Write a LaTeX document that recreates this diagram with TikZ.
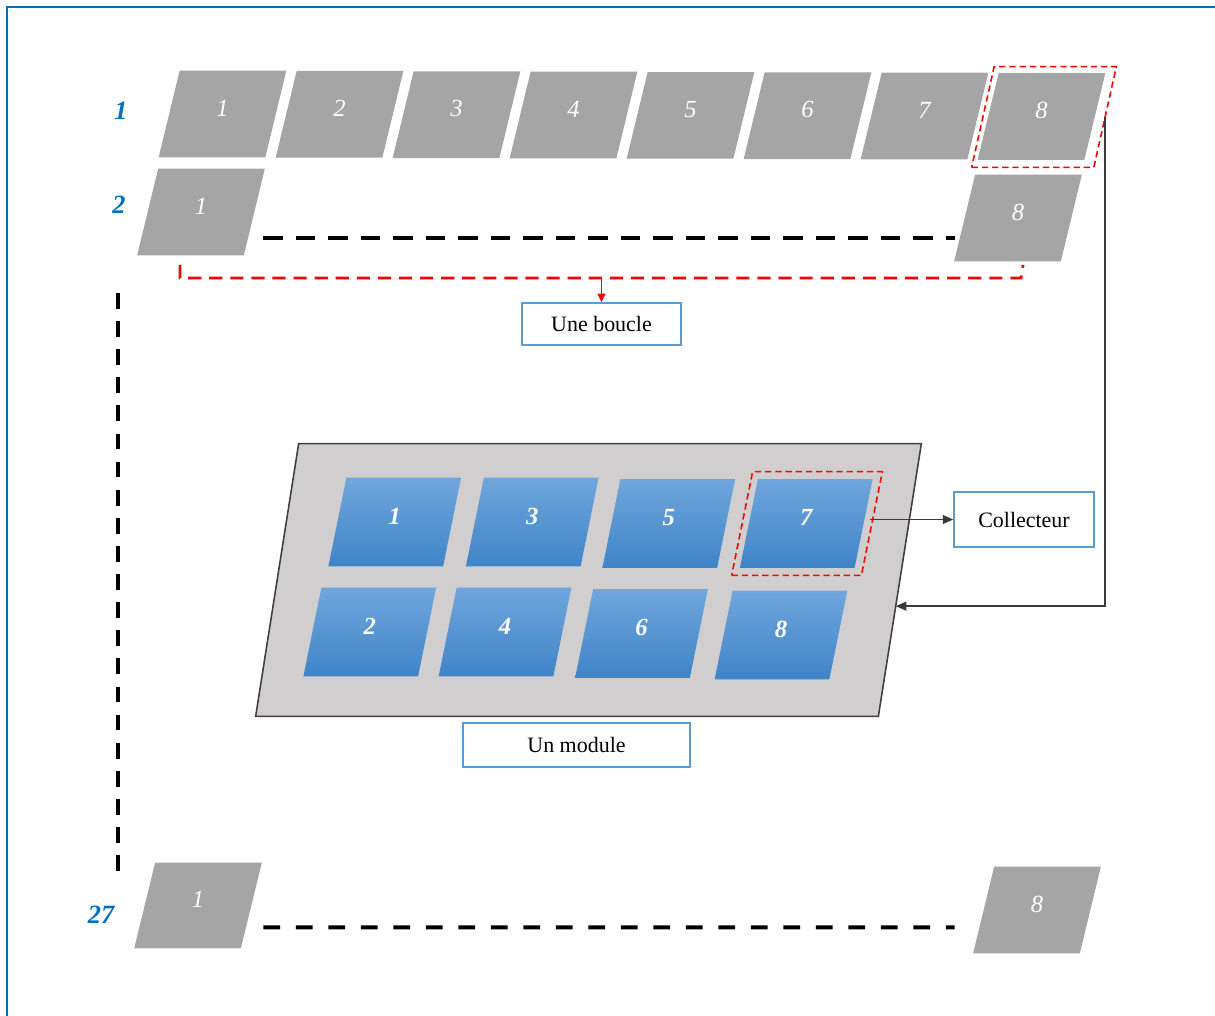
\documentclass[tikz,border=0pt]{standalone}
\usepackage{fontspec}
\setmainfont{Liberation Serif}
\usetikzlibrary{arrows.meta,calc}
\definecolor{tilegray}{HTML}{A5A5A5}
\definecolor{modgray}{HTML}{D0CECE}
\definecolor{modedge}{HTML}{404040}
\definecolor{bluetop}{HTML}{6FA6DC}
\definecolor{bluebot}{HTML}{3F84C8}
\definecolor{boxblue}{HTML}{5B9BD5}
\definecolor{labblue}{HTML}{0070C0}
\definecolor{myred}{HTML}{FF0000}
\definecolor{linegray}{HTML}{3A3A3A}
% #1 fill style, #2 text style, #3 name, #4 x, #5 y, #6 side width, #7 height, #8 slant, #9 text
\newcommand\ptile[9]{%
  \node[inner sep=0pt, minimum width={#6*0.02cm}, minimum height={#7*0.02cm}] (#3) at ({#4},{#5}) {};
  \path[#1] ($(#3.south west)+({-#8/2},0)$) -- ($(#3.south east)+({-#8/2},0)$)
    -- ($(#3.north east)+({#8/2},0)$) -- ($(#3.north west)+({#8/2},0)$) -- cycle;
  \node[#2] (#3-t) at ($(#3.center)+(0,-6)$) {#9};
}
\begin{document}
\begin{tikzpicture}[x=0.02cm,y=-0.02cm,
  grayfill/.style={fill=tilegray},
  graytext/.style={text=white, inner sep=0pt, font=\fontsize{14}{16}\selectfont\itshape},
  bluefill/.style={top color=bluetop, bottom color=bluebot},
  bluetext/.style={text=white, inner sep=0pt, font=\fontsize{14}{16}\selectfont\bfseries\itshape},
  redframe/.style={draw=myred, line width=0.9pt, dash pattern=on 3.6pt off 2.2pt},
  notext/.style={inner sep=0pt},
  modfill/.style={fill=modgray, draw=modedge, line width=0.9pt},
  rowlab/.style={text=labblue, font=\fontsize{15}{18}\selectfont\bfseries\itshape, inner sep=0pt},
  textbox/.style={draw=boxblue, line width=0.8pt, fill=white, inner sep=0pt,
    font=\fontsize{12.5}{15}\selectfont},
  conn/.style={linegray, line width=0.8pt, -{Triangle[length=6pt,width=5pt]}}
]
\useasboundingbox (0,0) rectangle (1215,1016);
% outer frame
\draw[labblue, line width=1.3pt] (7,1016) -- (7,7) -- (1215,7);

% row labels
\node[rowlab] (lab1) at (121,111) {1};
\node[rowlab] (lab2) at (119,205) {2};
\node[rowlab] (lab27) at (101,915) {27};

% row 1
\foreach \k in {1,...,8}{
  \ptile{grayfill}{graytext}{g1\k}{222.5+117*(\k-1)}{114+0.35*(\k-1)}{106}{86}{21}{\k}
}
\ptile{redframe}{notext}{r8}{1044}{117}{121.5}{100}{22.5}{}

% row 2
\ptile{grayfill}{graytext}{g21}{201}{212}{106}{86}{21}{1}
\ptile{grayfill}{graytext}{g28}{1018}{218}{106}{86}{21}{8}
\draw[line width=2.2pt, black, dash pattern=on 11pt off 7.5pt]
  ($(g21.south east)+(9,-17)$) -- ($(g28.south west)+(-10,-23)$);

% bracket "Une boucle"
\coordinate (br1) at (180,265);
\coordinate (br2) at (180,278);
\coordinate (br3) at (1021,278);
\coordinate (br4) at (1023,265);
\draw[myred, line width=1.6pt, dash pattern=on 7.5pt off 4.5pt] (br1) -- (br2) -- (br3) -- (br4);
\node[textbox, minimum width=3.18cm, minimum height=0.84cm] (boucle) at (601.5,324) {Une boucle};
\draw[myred, line width=0.8pt, -{Triangle[length=5pt,width=4.5pt]}] (boucle.north |- br2) -- (boucle.north);

% vertical dashed line
\coordinate (v1) at (118,293);
\coordinate (v2) at (118,873);
\draw[line width=2.2pt, black, dash pattern=on 9pt off 7pt] (v1) -- (v2);

% module
\ptile{modfill}{notext}{module}{588.5}{580}{622}{272}{43}{}
\ptile{bluefill}{bluetext}{b1}{394.75}{522}{114}{88}{18}{1}
\ptile{bluefill}{bluetext}{b3}{532.25}{522}{114}{88}{18}{3}
\ptile{bluefill}{bluetext}{b5}{668.75}{523.5}{114}{88}{18}{5}
\ptile{bluefill}{bluetext}{b7}{806.25}{523.5}{114}{88}{18}{7}
\ptile{bluefill}{bluetext}{b2}{369.75}{632}{114}{88}{18}{2}
\ptile{bluefill}{bluetext}{b4}{505}{632}{114}{88}{18}{4}
\ptile{bluefill}{bluetext}{b6}{641.5}{633.5}{114}{88}{18}{6}
\ptile{bluefill}{bluetext}{b8}{781}{635}{114}{88}{18}{8}
\ptile{redframe}{notext}{r7}{807}{523.5}{129}{103}{21}{}

\node[textbox, minimum width=2.8cm, minimum height=1.1cm] (coll) at (1024,519.5) {Collecteur};
\node[textbox, minimum width=4.54cm, minimum height=0.88cm] (mod) at (576.5,745) {Un module};

\coordinate (c7) at ($(r7.east)+(-2,-4)$);
\draw[conn] (c7) -- (c7 -| coll.west);
\coordinate (modin) at ($($(module.north east)+(21.5,0)$)!0.596!($(module.south east)+(-21.5,0)$)$);
\draw[conn] (r8.east) |- (modin);

% row 27
\ptile{grayfill}{graytext}{g271}{198}{905.5}{106}{85}{21}{1}
\ptile{grayfill}{graytext}{g278}{1037}{910}{106}{86}{21}{8}
\draw[line width=2.2pt, black, dash pattern=on 9.5pt off 9pt]
  ($(g271.south east)+(12,-21)$) -- ($(g278.south west)+(-29,-26)$);
\end{tikzpicture}
\end{document}
